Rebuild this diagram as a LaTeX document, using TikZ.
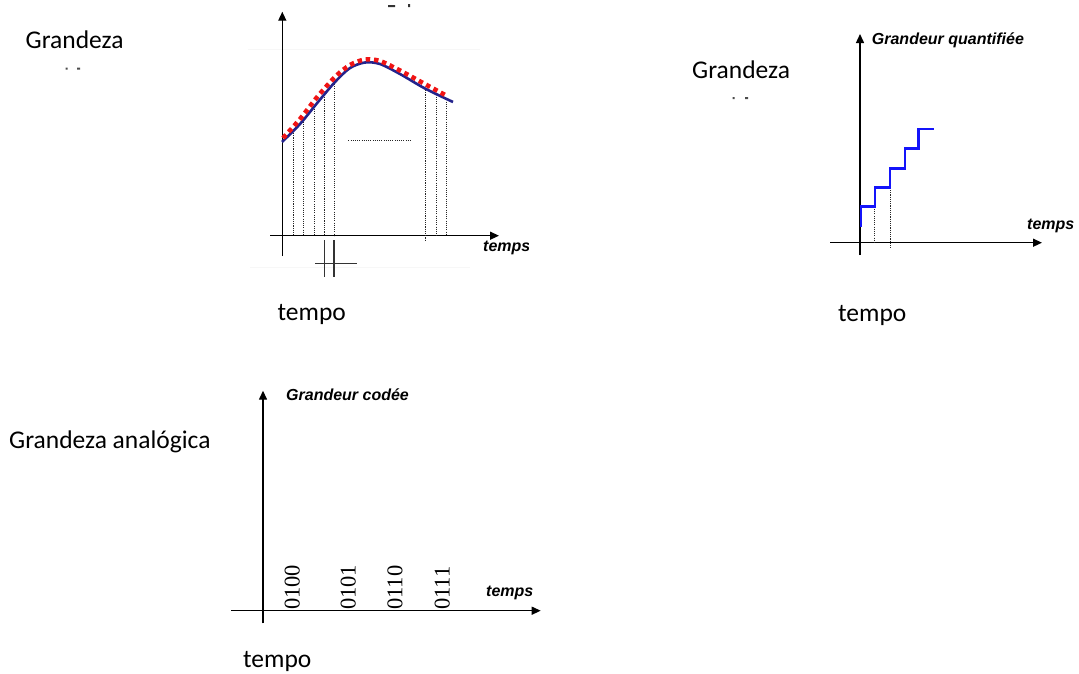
\documentclass[tikz,border=0pt]{standalone}
\usepackage{fontspec}
\setmainfont{Carlito}
\newfontfamily\arialfont{Liberation Sans}
\newfontfamily\timesfont{Liberation Serif}
\usetikzlibrary{arrows.meta}
\definecolor{curveblue}{RGB}{35,35,140}
\definecolor{dotred}{RGB}{240,20,20}
\definecolor{stepblue}{RGB}{20,20,250}

\begin{document}
\begin{tikzpicture}[x=1pt, y=-1pt, >={Triangle[length=9pt,width=8pt]},
  axis/.style={line width=1.4pt, black},
  samp/.style={line width=1pt, black!85, dash pattern=on 1.1pt off 1.1pt},
  lbl/.style={font=\fontsize{25.5}{30}\selectfont, inner sep=0pt, anchor=base west},
  fr/.style={font=\arialfont\bfseries\itshape\fontsize{16}{19}\selectfont, inner sep=0pt, anchor=west},
  code/.style={font=\timesfont\fontsize{22.5}{26}\selectfont, inner sep=0pt, anchor=west, rotate=90}]
  \useasboundingbox (0,0) rectangle (1079,673);

  % Top left: analog signal and its samples
  \node[lbl] (gA) at (25.5,48.3) {Grandeza};
  \fill[black!70] (65.5,67.5) rectangle (67.5,69.5) (77,67.5) rectangle (80,69.5);
  \fill[black!80] (388,5) rectangle (395,7) (408,4) rectangle (410,7);
  \draw[gray!6, line width=1pt] (248,49.3) -- (480,49.3);
  \draw[gray!6, line width=1pt] (250,267.3) -- (470,267.3);
  \draw[axis, ->] (282.3,256) -- (282.3,11.7);
  \draw[axis, ->] (270,235.7) -- (499,235.7);

  % sampling instants
  \foreach \x/\y in {293.3/133, 303.3/121.7, 314.3/106.7, 324.3/95, 334/81.7, 436.7/96.7, 446.5/101.7} {
    \draw[samp] (\x,\y) -- (\x,235.7);
  }
  \draw[samp] (425.7,90) -- (425.7,241.7);
  \draw[samp] (348.3,140.7) -- (411.7,140.7);

  % signal and sampled version
  \draw[curveblue, line width=2.6pt] plot[smooth] coordinates
    {(282,142) (300,124) (318,102) (335,82) (350,68) (365,62.5) (380,64) (400,74) (425,88.5) (453,102)};
  \draw[dotred, line width=4.5pt, dash pattern=on 4.5pt off 3.8pt] plot[smooth] coordinates
    {(283,138) (300,119) (318,96) (336,76) (350,65) (365,59.5) (380,61) (400,70.5) (423,83) (447,96)};

  % double bar under the time axis
  \draw[line width=1.4pt, black!80] (324.3,240) -- (324.3,277) (334,240) -- (334,277)
    (315,263.3) -- (356.7,263.3);
  \begin{scope}
    \clip (470,230) rectangle (528,270);
    \node[fr] (tA) at (483,248) {temps};
  \end{scope}
  \node[lbl] (tpA) at (277.5,320) {tempo};

  % Top right: quantized signal
  \node[lbl] (gB) at (692,78.3) {Grandeza};
  \fill[black!70] (732.5,97) rectangle (734.5,99) (745,97) rectangle (748,99);
  \draw[axis, ->] (860,255) -- (860,34);
  \draw[axis, ->] (830,242.7) -- (1042,242.7);
  \node[fr] (qB) at (871.7,40.7) {Grandeur quantifiée};
  \node[fr] (tB) at (1027,225.7) {temps};
  \draw[samp] (874.5,206.7) -- (874.5,242.7);
  \draw[samp] (890.7,190) -- (890.7,247.3);
  \draw[stepblue, line width=2.8pt] (861,226.7) -- (861,206.7) -- (875,206.7) -- (875,187.7)
    -- (890,187.7) -- (890,168.3) -- (905,168.3) -- (905,148.3) -- (918.5,148.3)
    -- (918.5,129) -- (933.5,129);
  \node[lbl] (tpB) at (838,321.7) {tempo};

  % Bottom: coded signal
  \node[lbl] (gC) at (9,448.3) {Grandeza analógica};
  \draw[axis, ->] (263,623.3) -- (263,390.7);
  \draw[axis, ->] (231,610.7) -- (540.7,610.7);
  \node[fr] (qC) at (286,395) {Grandeur codée};
  \node[fr] (tC) at (486,592.7) {temps};
  \foreach \x/\c [count=\i] in {292.3/0100, 348.3/0101, 395/0110, 442.3/0111} {
    \node[code] (code\i) at (\x,610) {\c};
  }
  \node[lbl] (tpC) at (243,667) {tempo};
\end{tikzpicture}
\end{document}
